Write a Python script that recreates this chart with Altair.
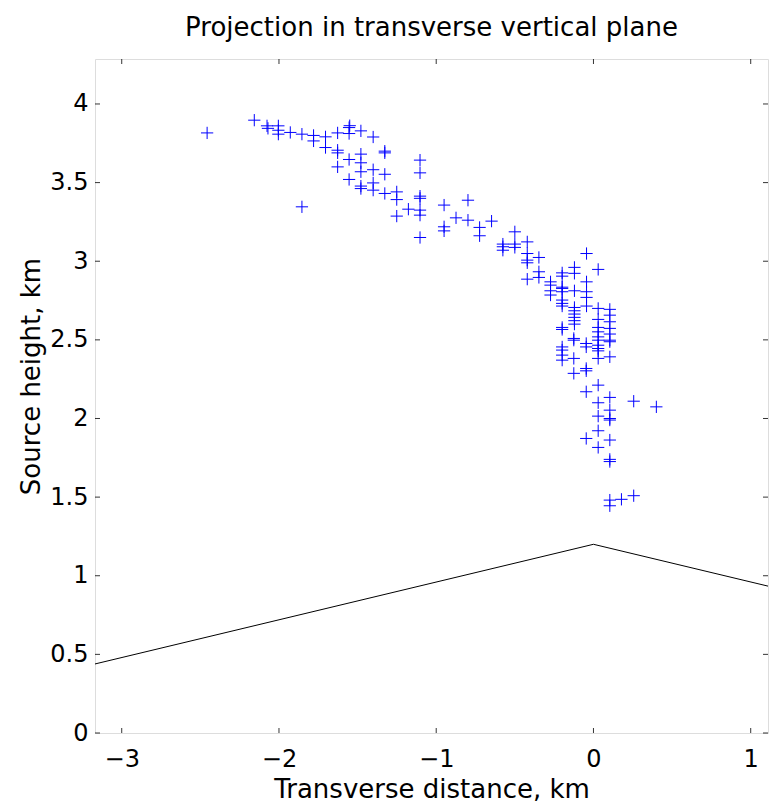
import altair as alt
import pandas as pd

# Scatter points (transverse distance km, source height km)
px = [-2.457, -2.157, -2.076, -2.07, -2.004, -2.004, -2.004, -1.928, -1.854, -1.780,
      -1.780, -1.704, -1.704, -1.627, -1.554, -1.55, -1.554, -1.627, -1.627, -1.627,
      -1.554, -1.479, -1.479, -1.479, -1.479, -1.554, -1.479, -1.479, -1.854, -1.401,
      -1.327, -1.327, -1.401, -1.327, -1.401, -1.401, -1.327, -1.251, -1.251, -1.251,
      -1.177, -1.103, -1.103, -1.103, -1.103, -1.103, -1.103, -1.103, -0.950, -0.950,
      -0.950, -0.798, -0.874, -0.798, -0.724, -0.724, -0.648, -0.500, -0.576, -0.576,
      -0.576, -0.500, -0.500, -0.421, -0.421, -0.421, -0.421, -0.347, -0.347, -0.421,
      -0.347, -0.273, -0.273, -0.273, -0.273, -0.199, -0.199, -0.199, -0.199, -0.199,
      -0.199, -0.199, -0.199, -0.121, -0.121, -0.121, -0.121, -0.121, -0.121, -0.121,
      -0.121, -0.121, -0.044, -0.044, -0.044, -0.044, -0.044, 0.030, 0.030, 0.030,
      0.030, 0.030, 0.030, 0.030, 0.030, 0.030, 0.104, 0.104, 0.104, 0.104,
      0.104, 0.104, -0.199, -0.125, -0.046, -0.199, -0.199, -0.199, -0.199, -0.125,
      -0.125, -0.046, -0.046, 0.030, 0.030, -0.046, 0.104, 0.104, 0.030, -0.046,
      0.030, 0.104, 0.104, 0.030, 0.104, 0.104, 0.256, 0.400, 0.030, -0.046,
      0.104, 0.030, 0.104, 0.104, 0.104, 0.104, 0.178, 0.256, -0.199, -0.125]
py = [3.816, 3.897, 3.861, 3.845, 3.861, 3.833, 3.808, 3.819, 3.808, 3.800,
      3.765, 3.791, 3.723, 3.816, 3.850, 3.862, 3.812, 3.706, 3.689, 3.600,
      3.647, 3.829, 3.681, 3.626, 3.569, 3.520, 3.478, 3.462, 3.346, 3.790,
      3.689, 3.700, 3.582, 3.553, 3.498, 3.452, 3.431, 3.441, 3.392, 3.287,
      3.331, 3.643, 3.562, 3.414, 3.400, 3.325, 3.293, 3.151, 3.357, 3.219,
      3.193, 3.388, 3.276, 3.261, 3.215, 3.162, 3.255, 3.187, 3.109, 3.092,
      3.070, 3.109, 3.088, 3.123, 3.049, 3.007, 2.990, 3.024, 2.933, 2.886,
      2.897, 2.869, 2.848, 2.812, 2.785, 2.926, 2.905, 2.827, 2.806, 2.753,
      2.732, 2.715, 2.579, 2.961, 2.923, 2.812, 2.706, 2.685, 2.664, 2.643,
      2.622, 2.600, 3.049, 2.869, 2.806, 2.770, 2.715, 2.948, 2.700, 2.630,
      2.579, 2.551, 2.519, 2.498, 2.466, 2.445, 2.694, 2.657, 2.615, 2.573,
      2.537, 2.498, 2.566, 2.509, 2.477, 2.455, 2.435, 2.403, 2.371, 2.382,
      2.287, 2.318, 2.303, 2.430, 2.382, 2.455, 2.488, 2.392, 2.212, 2.170,
      2.100, 2.134, 2.053, 2.015, 2.000, 1.990, 2.110, 2.074, 1.922, 1.873,
      1.863, 1.816, 1.740, 1.726, 1.481, 1.445, 1.486, 1.509, 2.835, 2.498]

# Terrain profile line
line_x = [-3.17, 0.0, 1.11]
line_y = [0.439, 1.2, 0.934]

x_ticks = [-3, -2, -1, 0, 1]
y_ticks = [0, 0.5, 1, 1.5, 2, 2.5, 3, 3.5, 4]

X_DOMAIN = [-3.17, 1.11]
Y_DOMAIN = [0, 4.286]
W, H = 673, 674
FONT = "DejaVu Sans"
FS = 26
LFS = 24

pts = pd.DataFrame({"x": px, "y": py})
ln = pd.DataFrame({"x": line_x, "y": line_y})
xt = pd.DataFrame({"v": x_ticks})
yt = pd.DataFrame({"v": y_ticks})

xscale = alt.Scale(domain=X_DOMAIN, nice=False, zero=False)
yscale = alt.Scale(domain=Y_DOMAIN, nice=False, zero=False)

xaxis = alt.Axis(values=x_ticks, format="~g", title="Transverse distance, km",
                 grid=False, ticks=False, tickSize=0, domain=False,
                 labelFontSize=LFS, titleFontSize=FS, labelFont=FONT, titleFont=FONT,
                 labelColor="black", titleColor="black", titleFontWeight="normal",
                 labelBaseline="alphabetic", labelPadding=33,
                 titleBaseline="alphabetic", titleY=64, labelFlush=False)
yaxis = alt.Axis(values=y_ticks, format="~g", title="Source height, km",
                 grid=False, ticks=False, tickSize=0, domain=False,
                 labelFontSize=LFS, titleFontSize=FS, labelFont=FONT, titleFont=FONT,
                 labelColor="black", titleColor="black", titleFontWeight="normal",
                 labelPadding=7, titleBaseline="alphabetic", titleX=-56,
                 titleY=H / 2 - 20, titleAngle=270, titleAlign="center", labelFlush=False)

cross = "M-1,0L1,0M0,-1L0,1"

scatter = alt.Chart(pts).mark_point(shape=cross, size=150, filled=False,
                                    stroke="#0000ff", strokeWidth=1, opacity=1).encode(
    x=alt.X("x:Q", scale=xscale, axis=xaxis),
    y=alt.Y("y:Q", scale=yscale, axis=yaxis),
)

terrain = alt.Chart(ln).mark_line(color="black", strokeWidth=1, clip=True).encode(
    x=alt.X("x:Q", scale=xscale),
    y=alt.Y("y:Q", scale=yscale),
)

tick_style = dict(color="black", strokeWidth=0.8)
bottom_ticks = alt.Chart(xt).mark_rule(**tick_style).encode(
    x=alt.X("v:Q", scale=xscale), y=alt.value(H), y2=alt.value(H - 5))
top_ticks = alt.Chart(xt).mark_rule(**tick_style).encode(
    x=alt.X("v:Q", scale=xscale), y=alt.value(0), y2=alt.value(5))
left_ticks = alt.Chart(yt).mark_rule(**tick_style).encode(
    y=alt.Y("v:Q", scale=yscale), x=alt.value(0), x2=alt.value(5))
right_ticks = alt.Chart(yt).mark_rule(**tick_style).encode(
    y=alt.Y("v:Q", scale=yscale), x=alt.value(W), x2=alt.value(W - 5))

chart = alt.layer(terrain, bottom_ticks, top_ticks, left_ticks, right_ticks, scatter).properties(
    width=W, height=H,
    title=alt.TitleParams("Projection in transverse vertical plane", fontSize=FS,
                          font=FONT, fontWeight="normal", color="black",
                          anchor="middle", offset=18),
    autosize=alt.AutoSizeParams(type="none"),
    padding={"left": 95, "top": 59, "right": 2, "bottom": 74},
).configure_view(stroke="black", strokeWidth=1).configure(background="white")

chart.save("out.html", embed_options={"renderer": "svg", "actions": False})
